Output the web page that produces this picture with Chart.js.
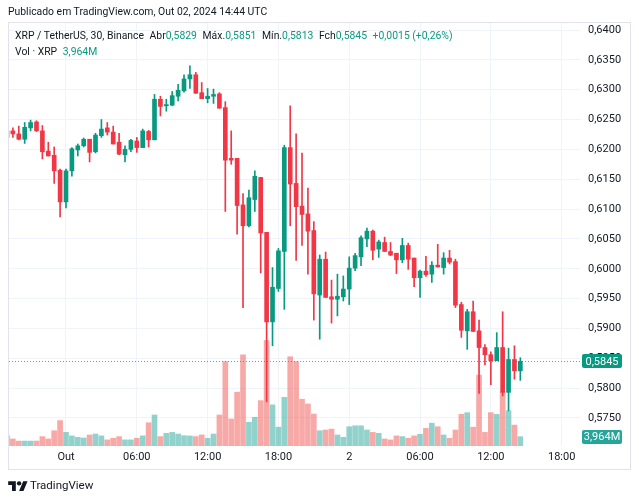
<!DOCTYPE html>
<html>
<head>
<meta charset="utf-8">
<script src="https://cdn.jsdelivr.net/npm/chart.js@4.4.1/dist/chart.umd.min.js"></script>
<style>
  body { margin: 0; background: #fff; }
  #wrap { position: relative; width: 639px; height: 500px; font-family: Roboto, 'Noto Sans', sans-serif; color: #131722; }
  #c { position: absolute; left: 0; top: 0; }
  #pub { position: absolute; left: 8px; top: 5px; font-size: 10.4px; line-height: 14px; white-space: nowrap; }
  #frame { position: absolute; left: 8px; top: 22px; width: 623px; height: 448px; border: 1px solid #e0e3eb; box-sizing: border-box; pointer-events: none; }
  #legend { position: absolute; left: 15px; top: 28px; font-size: 10.4px; line-height: 15.5px; white-space: nowrap; }
  #legend .v { color: #089981; }
  #legend .gap { margin-left: 3px; }
  #logo { position: absolute; left: 8px; top: 477px; font-size: 11.5px; line-height: 16px; display: flex; align-items: center; gap: 2px; }
</style>
</head>
<body>
<div id="wrap">
  <canvas id="c" width="639" height="500"></canvas>
  <div id="frame"></div>
  <div id="pub">Publicado em TradingView.com, Out 02, 2024 14:44 UTC</div>
  <div id="legend">
    <div>XRP / TetherUS, 30, Binance <span class="gap">Abr</span><span class="v">0,5829</span> <span class="gap">Máx.</span><span class="v">0,5851</span> <span class="gap">Mín.</span><span class="v">0,5813</span> <span class="gap">Fch</span><span class="v">0,5845</span> <span class="v gap">+0,0015 (+0,26%)</span></div>
    <div>Vol · XRP <span class="v gap">3,964M</span></div>
  </div>
  <div id="logo">
    <svg width="20" height="12" viewBox="0 0 36 22"><path d="M14 22H7V11H0V4h14v18zM28 22h-8l7.5-18h8L28 22z" fill="#131722"/><circle cx="20" cy="8" r="4" fill="#131722"/></svg>
    <span>TradingView</span>
  </div>
</div>
<script>
// XRP/USDT 30 min, barras a partir de 30/09 19:00 (horas relativas a 01/10 00:00)
const firstBarHour = -5;
const barStepHours = 0.5;

const opens = [
  0.6220, 0.6231, 0.6226, 0.6217, 0.6236, 0.6246, 0.6231, 0.6197, 0.6190, 0.6165,
  0.6112, 0.6164, 0.6199, 0.6206, 0.6217, 0.6196, 0.6223, 0.6236, 0.6229, 0.6212,
  0.6191, 0.6200, 0.6214, 0.6203, 0.6230, 0.6216, 0.6284, 0.6273, 0.6274, 0.6289,
  0.6298, 0.6318, 0.6325, 0.6295, 0.6285, 0.6289, 0.6293, 0.6270, 0.6185, 0.6185,
  0.6107, 0.6072, 0.6116, 0.6153, 0.6061, 0.5911, 0.5967, 0.6029, 0.6203, 0.6143,
  0.6105, 0.6092, 0.6064, 0.5956, 0.6016, 0.5953, 0.5949, 0.5953, 0.5966, 0.6001,
  0.6020, 0.6050, 0.6063, 0.6033, 0.6044, 0.6029, 0.6026, 0.6015, 0.6039, 0.6018,
  0.5985, 0.5996, 0.5991, 0.6006, 0.6002, 0.6018, 0.6012, 0.5940, 0.5896, 0.5928,
  0.5896, 0.5868, 0.5856, 0.5846, 0.5868, 0.5793, 0.5848, 0.5829
];
const highs = [
  0.6234, 0.6236, 0.6239, 0.6245, 0.6249, 0.6248, 0.6240, 0.6212, 0.6204, 0.6167,
  0.6167, 0.6203, 0.6209, 0.6219, 0.6217, 0.6227, 0.6250, 0.6245, 0.6239, 0.6227,
  0.6206, 0.6217, 0.6220, 0.6234, 0.6232, 0.6292, 0.6289, 0.6284, 0.6297, 0.6309,
  0.6325, 0.6340, 0.6329, 0.6312, 0.6302, 0.6301, 0.6295, 0.6280, 0.6231, 0.6185,
  0.6126, 0.6132, 0.6164, 0.6153, 0.6061, 0.6002, 0.6034, 0.6207, 0.6273, 0.6226,
  0.6194, 0.6135, 0.6079, 0.6023, 0.6028, 0.5981, 0.5991, 0.5988, 0.6020, 0.6026,
  0.6055, 0.6068, 0.6065, 0.6048, 0.6053, 0.6044, 0.6026, 0.6051, 0.6043, 0.6018,
  0.5998, 0.6021, 0.6012, 0.6041, 0.6027, 0.6031, 0.6016, 0.5944, 0.5932, 0.5946,
  0.5914, 0.5873, 0.5861, 0.5893, 0.5928, 0.5867, 0.5871, 0.5851
];
const lows = [
  0.6217, 0.6220, 0.6216, 0.6210, 0.6231, 0.6230, 0.6184, 0.6189, 0.6143, 0.6087,
  0.6102, 0.6155, 0.6189, 0.6204, 0.6179, 0.6194, 0.6220, 0.6224, 0.6209, 0.6191,
  0.6179, 0.6196, 0.6195, 0.6203, 0.6204, 0.6216, 0.6256, 0.6264, 0.6273, 0.6281,
  0.6296, 0.6302, 0.6294, 0.6285, 0.6278, 0.6277, 0.6269, 0.6096, 0.6175, 0.6058,
  0.5935, 0.6070, 0.6096, 0.5993, 0.5777, 0.5871, 0.5962, 0.5932, 0.6072, 0.6014,
  0.6039, 0.5991, 0.5914, 0.5882, 0.5952, 0.5909, 0.5921, 0.5946, 0.5940, 0.5997,
  0.6005, 0.6037, 0.6015, 0.6019, 0.6029, 0.6022, 0.5992, 0.6010, 0.5999, 0.5970,
  0.5952, 0.5987, 0.5977, 0.6003, 0.5991, 0.6008, 0.5935, 0.5885, 0.5865, 0.5895,
  0.5791, 0.5839, 0.5806, 0.5846, 0.5787, 0.5762, 0.5815, 0.5813
];
const closes = [
  0.6231, 0.6226, 0.6217, 0.6237, 0.6245, 0.6231, 0.6196, 0.6189, 0.6164, 0.6112,
  0.6164, 0.6201, 0.6206, 0.6217, 0.6195, 0.6224, 0.6234, 0.6229, 0.6209, 0.6192,
  0.6200, 0.6215, 0.6203, 0.6231, 0.6216, 0.6284, 0.6272, 0.6275, 0.6290, 0.6299,
  0.6318, 0.6325, 0.6294, 0.6285, 0.6289, 0.6292, 0.6269, 0.6182, 0.6182, 0.6106,
  0.6072, 0.6119, 0.6155, 0.6060, 0.5911, 0.5969, 0.6030, 0.6203, 0.6142, 0.6104,
  0.6091, 0.6063, 0.5958, 0.6016, 0.5952, 0.5949, 0.5954, 0.5966, 0.6001, 0.6022,
  0.6052, 0.6063, 0.6031, 0.6045, 0.6029, 0.6023, 0.6015, 0.6039, 0.6016, 0.5985,
  0.5996, 0.5990, 0.6006, 0.6003, 0.6018, 0.6011, 0.5939, 0.5897, 0.5928, 0.5895,
  0.5868, 0.5856, 0.5846, 0.5868, 0.5793, 0.5848, 0.5829, 0.5845
];
// volume em milhões de XRP
const volumes = [
  4.3, 3.0, 2.1, 2.1, 2.1, 2.1, 4.0, 3.0, 6.5, 10.8,
  5.8, 4.3, 3.7, 3.4, 4.7, 5.1, 4.3, 2.6, 3.3, 4.0,
  2.6, 2.6, 3.3, 4.3, 9.9, 13.2, 4.0, 5.4, 5.8, 5.1,
  4.4, 4.3, 4.0, 4.7, 3.3, 5.1, 13.2, 35.9, 11.5, 22.9,
  38.8, 10.1, 12.2, 19.3, 44.9, 17.5, 8.0, 20.7, 38.0, 35.9,
  19.9, 17.9, 13.6, 6.5, 6.8, 7.2, 4.7, 3.7, 8.2, 8.6,
  8.6, 6.8, 5.8, 5.4, 3.0, 2.6, 4.3, 4.0, 3.3, 4.3,
  5.0, 7.5, 9.7, 8.2, 4.7, 3.3, 6.8, 13.5, 14.2, 8.0,
  30.2, 5.8, 14.2, 13.5, 23.1, 15.0, 8.9, 3.964
];

const tickHours = [0, 6, 12, 18, 24, 30, 36, 42];
const tickLabels = ['Out', '06:00', '12:00', '18:00', '2', '06:00', '12:00', '18:00'];
const priceTicks = [0.575, 0.580, 0.585, 0.590, 0.595, 0.600, 0.605, 0.610, 0.615, 0.620, 0.625, 0.630, 0.635, 0.640];

const GREEN = '#089981';
const RED = '#F23645';
const VOL_UP = 'rgba(38,166,154,0.5)';
const VOL_DOWN = 'rgba(239,83,80,0.5)';
const TXT = '#131722';
const GRID = '#f0f3fa';

const xs = opens.map((_, i) => firstBarHour + i * barStepHours);
const up = closes.map((c, i) => c >= opens[i]);
const last = closes.length - 1;

const fmt = (v) => v.toFixed(4).replace('.', ',');

// linha pontilhada do último preço + etiquetas no eixo
const lastPricePlugin = {
  id: 'lastPrice',
  afterDatasetsDraw(chart) {
    const { ctx, chartArea, scales } = chart;
    const y = Math.round(scales.y.getPixelForValue(closes[last])) + 0.5;
    ctx.save();
    ctx.strokeStyle = 'rgba(8,153,129,0.75)';
    ctx.lineWidth = 1;
    ctx.setLineDash([1, 2]);
    ctx.beginPath();
    ctx.moveTo(chartArea.left, y);
    ctx.lineTo(chartArea.right, y);
    ctx.stroke();
    ctx.restore();
  },
  afterDraw(chart) {
    const { ctx, chartArea, scales } = chart;
    const drawTag = (yc, text, bg) => {
      const x = chartArea.right + 1, w = 40, h = 14;
      ctx.save();
      ctx.fillStyle = bg;
      ctx.beginPath();
      ctx.roundRect(x, Math.round(yc - h / 2), w, h, 2);
      ctx.fill();
      ctx.fillStyle = '#fff';
      ctx.font = '11px Roboto, "Noto Sans", sans-serif';
      ctx.textAlign = 'center';
      ctx.textBaseline = 'middle';
      ctx.fillText(text, x + w / 2, yc + 0.5);
      ctx.restore();
    };
    drawTag(scales.y.getPixelForValue(closes[last]), fmt(closes[last]), GREEN);
    drawTag(scales.yv.getPixelForValue(volumes[last]), volumes[last].toFixed(3).replace('.', ',') + 'M', '#26a69a');
  }
};

new Chart(document.getElementById('c'), {
  type: 'bar',
  data: {
    datasets: [
      {
        label: 'corpo',
        data: opens.map((o, i) => ({ x: xs[i], y: [o, closes[i]] })),
        backgroundColor: up.map(u => u ? GREEN : RED),
        barThickness: 4,
        minBarLength: 1,
        grouped: false,
        yAxisID: 'y',
        order: 0
      },
      {
        label: 'pavio',
        data: lows.map((l, i) => ({ x: xs[i], y: [l, highs[i]] })),
        backgroundColor: up.map(u => u ? GREEN : RED),
        barThickness: 1,
        grouped: false,
        yAxisID: 'y',
        order: 1
      },
      {
        label: 'Vol',
        data: volumes.map((v, i) => ({ x: xs[i], y: v })),
        backgroundColor: up.map(u => u ? VOL_UP : VOL_DOWN),
        barThickness: 5,
        grouped: false,
        yAxisID: 'yv',
        order: 2
      }
    ]
  },
  options: {
    responsive: false,
    animation: false,
    layout: { padding: { left: 9, top: 23, right: 8, bottom: 30.5 } },
    plugins: { legend: { display: false }, tooltip: { enabled: false } },
    scales: {
      x: {
        type: 'linear',
        offset: false,
        min: -4.83,
        max: 43.64,
        afterBuildTicks: (s) => { s.ticks = tickHours.map(v => ({ value: v })); },
        afterFit: (s) => { s.height = 23.5; },
        ticks: {
          autoSkip: false,
          maxRotation: 0,
          padding: 5,
          color: TXT,
          font: { size: 11, family: 'Roboto, "Noto Sans", sans-serif' },
          callback: (v, i) => tickLabels[i]
        },
        grid: { color: GRID, drawTicks: false, offset: false },
        border: { display: false }
      },
      y: {
        position: 'right',
        min: 0.570307,
        max: 0.641173,
        afterBuildTicks: (s) => { s.ticks = priceTicks.map(v => ({ value: v })); },
        afterFit: (s) => { s.width = 50; },
        ticks: {
          padding: 7,
          color: TXT,
          font: { size: 11, family: 'Roboto, "Noto Sans", sans-serif' },
          callback: (v) => fmt(v)
        },
        grid: { color: GRID, drawTicks: false },
        border: { display: false }
      },
      yv: {
        display: false,
        min: 0,
        max: 180
      }
    }
  },
  plugins: [lastPricePlugin]
});
</script>
</body>
</html>
